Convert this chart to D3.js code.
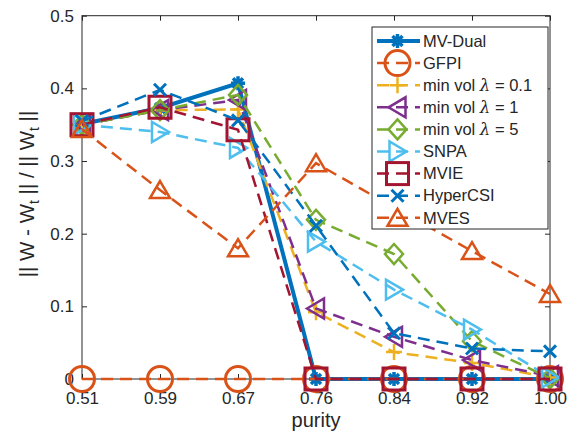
<!DOCTYPE html>
<html><head><meta charset="utf-8">
<script src="https://cdn.jsdelivr.net/npm/d3@7"></script>
<style>
body{margin:0;background:#fff;}
text{font-family:"Liberation Sans",Arial,Helvetica,sans-serif;fill:#262626;}
</style></head>
<body><svg id="c" width="571" height="436"></svg>
<script>
const categories = ["0.51","0.59","0.67","0.76","0.84","0.92","1.00"];
const yTicks = [0, 0.1, 0.2, 0.3, 0.4, 0.5];
const yTickLabels = ["0","0.1","0.2","0.3","0.4","0.5"];
const seriesNames = ["MV-Dual","GFPI","min vol λ = 0.1","min vol λ = 1","min vol λ = 5","SNPA","MVIE","HyperCSI","MVES"];
const mvDual   = [0.351, 0.373, 0.407, 0, 0, 0, 0];
const gfpi     = [0, 0, 0, 0, 0, 0, 0];
const minvol01 = [0.350, 0.370, 0.371, 0.092, 0.037, 0.022, 0.002];
const minvol1  = [0.350, 0.370, 0.384, 0.097, 0.058, 0.026, 0.004];
const minvol5  = [0.350, 0.370, 0.391, 0.219, 0.172, 0.052, 0.001];
const snpa     = [0.350, 0.340, 0.318, 0.189, 0.123, 0.068, 0.002];
const mvie     = [0.350, 0.374, 0.343, 0, 0, 0, 0];
const hypercsi = [0.355, 0.398, 0.356, 0.211, 0.063, 0.042, 0.038];
const mves     = [0.344, 0.260, 0.180, 0.297, 0.236, 0.176, 0.117];

const series = [
  {name:seriesNames[0], values:mvDual,   color:"#0072BD", marker:"asterisk", dash:null, w:4},
  {name:seriesNames[1], values:gfpi,     color:"#D95319", marker:"circle",   dash:"12,7", w:2.5},
  {name:seriesNames[2], values:minvol01, color:"#EDB120", marker:"plus",     dash:"12,7", w:2.5},
  {name:seriesNames[3], values:minvol1,  color:"#7E2F8E", marker:"triLeft",  dash:"12,7", w:2.5},
  {name:seriesNames[4], values:minvol5,  color:"#77AC30", marker:"diamond",  dash:"12,7", w:2.5},
  {name:seriesNames[5], values:snpa,     color:"#4DBEEE", marker:"triRight", dash:"12,7", w:2.5},
  {name:seriesNames[6], values:mvie,     color:"#A2142F", marker:"square",   dash:"12,7", w:2.5},
  {name:seriesNames[7], values:hypercsi, color:"#0072BD", marker:"cross",    dash:"12,7", w:2.5},
  {name:seriesNames[8], values:mves,     color:"#D95319", marker:"triUp",    dash:"12,7", w:2.5}
];

const svg = d3.select("#c");
const L=82, R=550, T=15.7, B=379;
const x = d3.scalePoint().domain(categories).range([L,R]);
const y = d3.scaleLinear().domain([0,0.5]).range([B,T]);
const axisColor = "#262626";

svg.append("rect").attr("x",L).attr("y",T).attr("width",R-L).attr("height",B-T)
  .attr("fill","none").attr("stroke",axisColor).attr("stroke-width",1);

const axBottom = d3.axisBottom(x).tickSize(-5).tickPadding(13);
const gb = svg.append("g").attr("transform",`translate(0,${B})`).call(axBottom);
const axTop = d3.axisTop(x).tickSize(-5).tickFormat("");
const gt = svg.append("g").attr("transform",`translate(0,${T})`).call(axTop);
const axLeft = d3.axisLeft(y).tickValues(yTicks).tickFormat((d,i)=>yTickLabels[i]).tickSize(-5).tickPadding(8);
const gl = svg.append("g").attr("transform",`translate(${L},0)`).call(axLeft);
const axRight = d3.axisRight(y).tickValues(yTicks).tickFormat("").tickSize(-5);
const gr = svg.append("g").attr("transform",`translate(${R},0)`).call(axRight);
[gb,gt,gl,gr].forEach(g=>{
  g.select(".domain").remove();
  g.selectAll(".tick line").attr("stroke",axisColor);
  g.selectAll("text").attr("fill",axisColor).style("font-size","17px").style("font-family","Liberation Sans, Arial, sans-serif");
});

svg.append("text").attr("x",316).attr("y",427).attr("text-anchor","middle")
  .style("font-size","20px").text("purity");
const yl = svg.append("text").attr("transform","translate(34,194) rotate(-90)")
  .attr("text-anchor","middle").style("font-size","20.5px");
yl.append("tspan").text("|| W - W");
yl.append("tspan").attr("dy",5).style("font-size","14px").text("t");
yl.append("tspan").attr("dy",-5).text(" || / || W");
yl.append("tspan").attr("dy",5).style("font-size","14px").text("t");
yl.append("tspan").attr("dy",-5).text(" ||");

function drawMarker(g, type, color, cx, cy){
  const m = g.append("g").attr("transform",`translate(${cx},${cy})`);
  const sw = 2.5;
  if(type==="circle"){
    m.append("circle").attr("r",12.5).attr("fill","none").attr("stroke",color).attr("stroke-width",3);
  } else if(type==="square"){
    m.append("rect").attr("x",-11).attr("y",-11).attr("width",22).attr("height",22)
      .attr("fill","none").attr("stroke",color).attr("stroke-width",3);
  } else if(type==="plus"){
    m.append("path").attr("d","M-8,0H8M0,-8V8").attr("stroke",color).attr("stroke-width",sw).attr("fill","none");
  } else if(type==="cross"){
    m.append("path").attr("d","M-6,-6L6,6M-6,6L6,-6").attr("stroke",color).attr("stroke-width",sw+0.5).attr("fill","none");
  } else if(type==="asterisk"){
    m.append("path").attr("d","M-7,0H7M0,-7V7M-5,-5L5,5M-5,5L5,-5").attr("stroke",color).attr("stroke-width",3.5).attr("fill","none");
  } else if(type==="diamond"){
    m.append("path").attr("d","M0,-10L9,0L0,10L-9,0Z").attr("stroke",color).attr("stroke-width",sw).attr("fill","none");
  } else if(type==="triUp"){
    m.append("path").attr("d","M0,-9L10,8L-10,8Z").attr("stroke",color).attr("stroke-width",sw).attr("fill","none");
  } else if(type==="triLeft"){
    m.append("path").attr("d","M-9,0L8,-10L8,10Z").attr("stroke",color).attr("stroke-width",sw).attr("fill","none");
  } else if(type==="triRight"){
    m.append("path").attr("d","M9,0L-8,-10L-8,10Z").attr("stroke",color).attr("stroke-width",sw).attr("fill","none");
  }
}

const line = d3.line().x((d,i)=>x(categories[i])).y(d=>y(d));
const gPlot = svg.append("g");
series.forEach(s=>{
  const g = gPlot.append("g");
  g.append("path").datum(s.values).attr("d",line).attr("fill","none")
    .attr("stroke",s.color).attr("stroke-width",s.w)
    .attr("stroke-dasharray",s.dash);
  s.values.forEach((v,i)=>drawMarker(g,s.marker,s.color,x(categories[i]),y(v)));
});

const lg = svg.append("g");
const LX=372, LY=27, LW=176, LH=202;
lg.append("rect").attr("x",LX).attr("y",LY).attr("width",LW).attr("height",LH)
  .attr("fill","#fff").attr("stroke",axisColor).attr("stroke-width",1);
series.forEach((s,i)=>{
  const cy = 41 + i*22.1;
  lg.append("line").attr("x1",377).attr("x2",420).attr("y1",cy).attr("y2",cy)
    .attr("stroke",s.color).attr("stroke-width",s.w).attr("stroke-dasharray",s.dash);
  drawMarker(lg,s.marker,s.color,397.5,cy);
  const t = lg.append("text").attr("x",423).attr("y",cy).attr("dy","0.35em").style("font-size","16.5px");
  const parts = s.name.split("λ");
  if(parts.length>1){
    t.append("tspan").text(parts[0]);
    t.append("tspan").style("font-style","italic").style("font-family","DejaVu Serif, serif").text("λ");
    t.append("tspan").text(parts[1]);
  } else t.text(s.name);
});
</script></body></html>
